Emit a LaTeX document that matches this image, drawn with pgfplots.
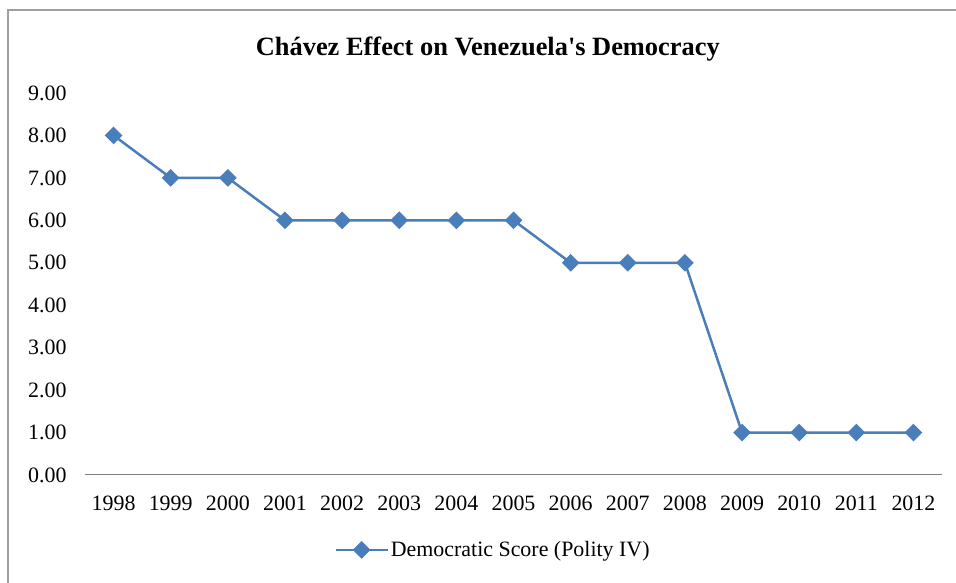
\documentclass[border=0pt]{standalone}
\usepackage{pgfplots}
\pgfplotsset{compat=1.18}
\usepackage{fontspec}
\setmainfont{Liberation Serif}
\definecolor{exblue}{RGB}{74,126,187}
\pgfplotstableread{
idx year score
0 1998 8
1 1999 7
2 2000 7
3 2001 6
4 2002 6
5 2003 6
6 2004 6
7 2005 6
8 2006 5
9 2007 5
10 2008 5
11 2009 1
12 2010 1
13 2011 1
14 2012 1
}\datatable
\begin{document}
\begin{tikzpicture}[x=1bp,y=1bp]
\useasboundingbox (0,0) rectangle (956,583);
\draw[gray!75, line width=2bp] (8,0) -- (8,573) -- (960,573);
\begin{axis}[
  at={(85bp,108bp)}, anchor=south west,
  scale only axis, width=857bp, height=382bp,
  xmin=-0.5, xmax=14.5, ymin=0, ymax=9,
  xtick=data,
  xticklabels={1998,1999,2000,2001,2002,2003,2004,2005,2006,2007,2008,2009,2010,2011,2012},
  ytick={0,1,...,9},
  /pgf/number format/assume math mode=true,
  yticklabel style={/pgf/number format/fixed,/pgf/number format/zerofill,/pgf/number format/precision=2, xshift=-15bp},
  xticklabel style={yshift=-17bp},
  tick label style={font=\fontsize{22}{26}\selectfont},
  axis x line*=bottom, axis y line*=left,
  x axis line style={gray, line width=1bp, -},
  y axis line style={draw=none},
  major tick length=0pt,
  title={\textbf{Chávez Effect on Venezuela\textquotesingle s Democracy}},
  title style={at={(0.47,1.10)}, anchor=center, font=\fontsize{26.5}{30}\selectfont},
  legend style={at={(0.476,-0.196)}, anchor=center, draw=none, font=\fontsize{22}{26}\selectfont},
  legend image code/.code={\draw[#1, mark repeat=2, mark phase=2] plot coordinates {(0bp,0bp) (26bp,0bp) (52bp,0bp)};},
]
\addplot[color=exblue, line width=2.5bp, mark=square*, mark size=5bp, mark options={rotate=45, solid}] table[x=idx, y=score] {\datatable};
\addlegendentry{Democratic Score (Polity IV)}
\end{axis}
\end{tikzpicture}
\end{document}
